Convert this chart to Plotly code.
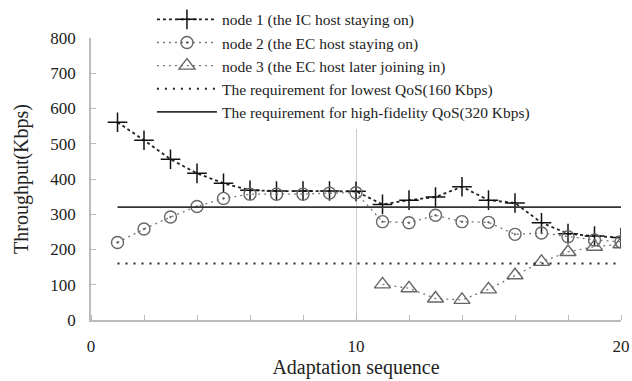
import plotly.graph_objects as go

seq = list(range(1, 21))
node1 = [561, 510, 456, 416, 388, 368, 366, 366, 366, 365,
         328, 340, 349, 378, 340, 332, 276, 245, 238, 234]
node2 = [220, 258, 292, 322, 345, 357, 357, 357, 360, 361,
         279, 276, 297, 279, 277, 243, 247, 236, 227, 222]
node3_x = list(range(11, 21))
node3 = [101, 90, 61, 57, 87, 127, 165, 193, 208, 215]
low_qos = 160
high_qos = 320
line_x = [1, 20]

names = ["node 1 (the IC host staying on)",
         "node 2 (the EC host staying on)",
         "node 3 (the EC host later joining in)",
         "The requirement for lowest QoS(160 Kbps)",
         "The requirement for high-fidelity QoS(320 Kbps)"]

font = "Liberation Serif, Times New Roman, serif"
fig = go.Figure()
fig.add_trace(go.Scatter(x=seq, y=node1, name=names[0], mode="lines+markers",
                         line=dict(color="#222", width=1.8, dash="3px,3px"),
                         marker=dict(symbol="cross-thin", size=14, color="#111",
                                     line=dict(color="#111", width=1.5))))
fig.add_trace(go.Scatter(x=seq, y=node2, name=names[1], mode="lines+markers",
                         line=dict(color="#777", width=1.3, dash="2px,4px"),
                         marker=dict(symbol="circle-open-dot", size=12, color="#666",
                                     line=dict(color="#666", width=1.4))))
fig.add_trace(go.Scatter(x=node3_x, y=node3, name=names[2], mode="lines+markers",
                         line=dict(color="#777", width=1.3, dash="2px,4px"),
                         marker=dict(symbol="triangle-up-open", size=14, color="#666",
                                     line=dict(color="#666", width=1.4))))
fig.add_trace(go.Scatter(x=line_x, y=[low_qos] * 2, name=names[3], mode="lines",
                         line=dict(color="#222", width=2, dash="2px,6px")))
fig.add_trace(go.Scatter(x=line_x, y=[high_qos] * 2, name=names[4], mode="lines",
                         line=dict(color="#333", width=1.8)))

fig.update_layout(
    width=632, height=381,
    margin=dict(l=91, r=11, t=38, b=61, autoexpand=False),
    paper_bgcolor="white", plot_bgcolor="white",
    font=dict(family=font, size=17, color="#222"),
    showlegend=True,
    legend=dict(x=0.115, y=1.125, xanchor="left", yanchor="top",
                bgcolor="white", font=dict(family=font, size=15.5, color="#222"),
                itemwidth=60, tracegroupgap=0),
    xaxis=dict(range=[0, 20], tickvals=[0, 10, 20], ticktext=["0", "10", "20"],
               showgrid=True, gridcolor="#ccc", gridwidth=1,
               showline=True, linecolor="#bbb", linewidth=1.5,
               ticks="", ticklabelstandoff=10, zeroline=False, automargin=False,
               minor=dict(tickvals=list(range(0, 21, 2)), ticks="inside", ticklen=5,
                          tickcolor="#bbb", showgrid=False),
               title=dict(text="Adaptation sequence", font=dict(size=20), standoff=4)),
    yaxis=dict(range=[0, 800], dtick=100, showgrid=False,
               showline=True, linecolor="#bbb", linewidth=1.5, automargin=False,
               ticks="inside", ticklen=5, tickcolor="#bbb", zeroline=False,
               ticklabelstandoff=10,
               title=dict(text="Throughput(Kbps)", font=dict(size=20), standoff=16)),
)
fig.write_html("out.html")
